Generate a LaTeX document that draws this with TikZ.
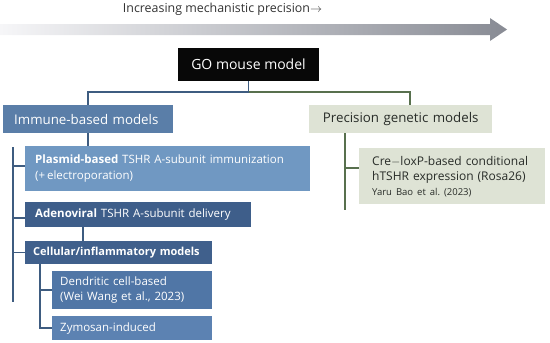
\documentclass[tikz,border=0pt]{standalone}
\usepackage{fontspec}
\setmainfont{Open Sans}
\usepackage{tikz}
\usetikzlibrary{positioning}
\definecolor{inkblack}{RGB}{8, 8, 8}
\definecolor{immfill}{RGB}{90, 126, 168}
\definecolor{plasfill}{RGB}{112, 152, 194}
\definecolor{adenofill}{RGB}{62, 94, 138}
\definecolor{cellfill}{RGB}{64, 96, 140}
\definecolor{dendfill}{RGB}{80, 118, 166}
\definecolor{zymofill}{RGB}{92, 130, 178}
\definecolor{genfill}{RGB}{222, 227, 213}
\definecolor{gentext}{RGB}{40, 44, 40}
\definecolor{linkblue}{RGB}{62, 92, 128}
\definecolor{linkgreen}{RGB}{88, 112, 78}
\definecolor{barleft}{RGB}{246, 246, 248}
\definecolor{barright}{RGB}{136, 139, 148}
\tikzset{
    box/.style    ={inner xsep=10pt, inner ysep=0pt, align=left,
                    anchor=north west, text=white,
                    font=\fontsize{11.5}{16}\selectfont},
    headbox/.style={box, font=\fontsize{13.3}{17}\selectfont},
    genbox/.style ={fill=genfill, text=gentext},
    linkb/.style  ={draw=linkblue, line width=1.5pt},
    linkg/.style  ={draw=linkgreen, line width=1.5pt}
}

\begin{document}
\begin{tikzpicture}[x=1pt, y=-1pt]
  \useasboundingbox (0,0) rectangle (550,343);

  % precision scale across the top
  \shade[left color=barleft, right color=barright]
    (0,24) -- (490,24) -- (490,18) -- (507,29.5) -- (490,41) -- (490,35) -- (0,35) -- cycle;
  \node[font=\fontsize{12.4}{15}\selectfont, text=black!80] (scale) at (222.5,9)
       {Increasing mechanistic precision$\rightarrow$};

  % root and the two families
  \node[fill=inkblack, text=white, minimum width=141pt, minimum height=33pt,
        inner sep=0pt, font=\fontsize{14}{17}\selectfont] (go) at (248.5,64.5) {GO mouse model};
  \node[headbox, fill=immfill, inner xsep=11pt, text width=148pt, minimum height=28pt]
       (imm) at (3,105) {\mbox{Immune-based models}};
  \node[headbox, genbox, align=center, inner xsep=0pt, text width=183pt, minimum height=28pt]
       (gen) at (309,105) {Precision genetic models};

  % immune-based branch
  \node[box, fill=plasfill, text width=265pt, minimum height=45pt] (plas) at (25,146)
       {\textbf{Plasmid-based} TSHR A-subunit immunization\\(+\,electroporation)};
  \node[box, fill=adenofill, text width=206pt, minimum height=25pt] (adeno) at (25,202)
       {\textbf{Adenoviral} TSHR A-subunit delivery};
  \node[box, fill=cellfill, inner xsep=8pt, text width=171pt, minimum height=23pt,
        font=\fontsize{11}{16}\selectfont] (cell) at (25,241)
       {\mbox{\textbf{Cellular/inflammatory models}}};
  \node[box, fill=dendfill, inner xsep=8pt, text width=144pt, minimum height=38pt,
        font=\fontsize{11.5}{15.5}\selectfont] (dend) at (52,271)
       {Dendritic cell-based\\(Wei Wang et al., 2023)};
  \node[box, fill=zymofill, inner xsep=8pt, text width=144pt, minimum height=24pt]
       (zymo) at (52,316) {Zymosan-induced};

  % genetic branch
  \node[box, genbox, inner xsep=13pt, text width=160pt, minimum height=56pt,
        font=\fontsize{12}{15.5}\selectfont] (cre) at (359,148)
       {Cre$-$loxP-based conditional\\hTSHR expression (Rosa26)\\[-1pt]{\fontsize{9.5}{12}\selectfont Yaru Bao et al.\ (2023)}};

  % root split, blue to the left and green to the right
  \coordinate (split) at (249,92);
  \draw[linkb] (go.south) -- (go.south |- split) -| (imm.north);
  \draw[linkg] (go.south |- split) -| ([xshift=9.5pt]gen.north);

  % immune trunk and its branches
  \coordinate (trunktop) at (13,147);
  \coordinate (trunkbot) at (13,302);
  \draw[linkb] (imm.south) -- (imm.south |- plas.north);
  \draw[linkb] (trunktop) -- (trunkbot);
  \draw[linkb] (trunktop |- plas.west) ++(0,-2.5) -- ([yshift=2.5pt]plas.west);
  \draw[linkb] (trunktop |- adeno.west) ++(0,3.5) -- ([yshift=-3.5pt]adeno.west);
  \draw[linkb] (trunktop |- cell.west) -- (cell.west);
  \draw[linkb] ([xshift=58pt]adeno.south west) -- ([xshift=58pt]cell.north west);
  \draw[linkb] ([xshift=15pt]cell.south west) |- (dend.west);
  \draw[linkb] ([xshift=15pt]cell.south west) |- (zymo.west);

  % genetic trunk
  \coordinate (gentrunk) at (345,210);
  \draw[linkg] ([xshift=36pt]gen.south west) -- (gentrunk);
  \draw[linkg] (gentrunk |- cre.west) ++(0,-8) -- ([yshift=8pt]cre.west);
\end{tikzpicture}
\end{document}
